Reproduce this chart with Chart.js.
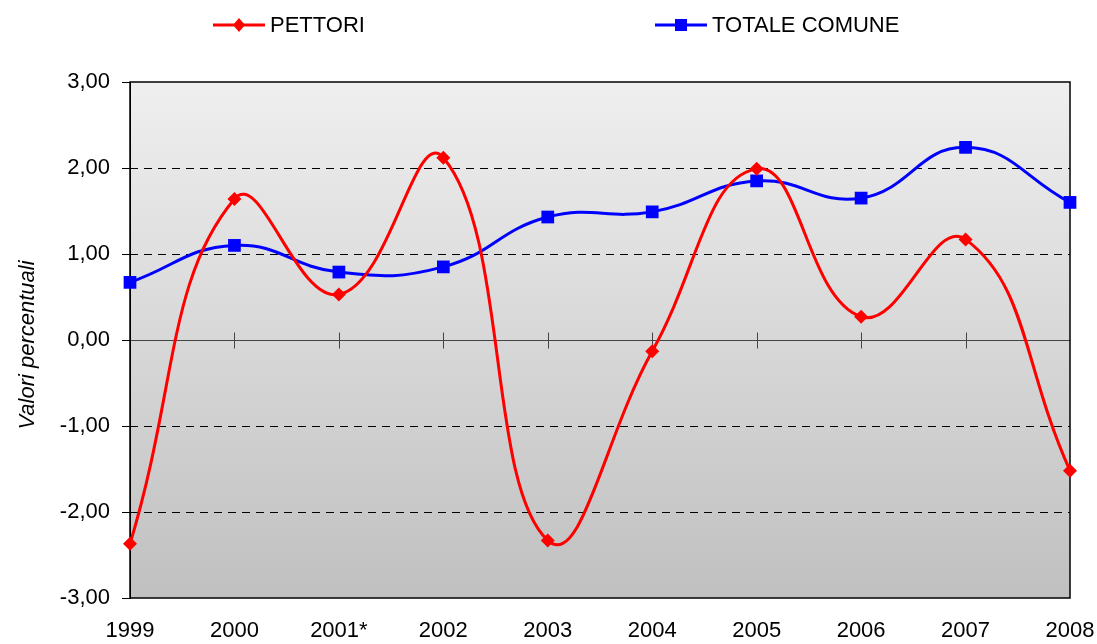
<!DOCTYPE html>
<html>
<head>
<meta charset="utf-8">
<script src="https://cdn.jsdelivr.net/npm/chart.js@4.4.1/dist/chart.umd.min.js"></script>
<style>
  html, body { margin: 0; padding: 0; background: #ffffff; }
  #wrap { width: 1097px; height: 644px; position: relative; }
</style>
</head>
<body>
<div id="wrap"><canvas id="c" width="1097" height="644"></canvas></div>
<script>
const categories = ['1999', '2000', '2001*', '2002', '2003', '2004', '2005', '2006', '2007', '2008'];
const pettori = [-2.37, 1.64, 0.53, 2.12, -2.33, -0.13, 1.99, 0.27, 1.17, -1.52];
const totaleComune = [0.67, 1.10, 0.79, 0.85, 1.43, 1.49, 1.85, 1.65, 2.24, 1.60];
const seriesNames = ['PETTORI', 'TOTALE COMUNE'];
const yAxisTitle = 'Valori percentuali';
const yGridValues = [-2, -1, 1, 2];

const FONT = '"Liberation Sans", Arial, sans-serif';
const RED = '#ff0000';
const BLUE = '#0000ff';

const decorPlugin = {
  id: 'decor',
  beforeDraw(chart) {
    const { ctx, chartArea: a } = chart;
    const g = ctx.createLinearGradient(0, a.top, 0, a.bottom);
    g.addColorStop(0, '#efefef');
    g.addColorStop(1, '#c0c0c0');
    ctx.save();
    ctx.fillStyle = g;
    ctx.fillRect(a.left, a.top, a.right - a.left, a.bottom - a.top);
    ctx.restore();
  },
  beforeDatasetsDraw(chart) {
    const { ctx, chartArea: a, scales } = chart;
    const y = scales.y, x = scales.x;
    ctx.save();
    ctx.strokeStyle = '#000';
    ctx.lineWidth = 1;
    ctx.setLineDash([8, 6]);
    yGridValues.forEach(v => {
      const py = Math.round(y.getPixelForValue(v)) + 0.5;
      ctx.beginPath(); ctx.moveTo(a.left, py); ctx.lineTo(a.right, py); ctx.stroke();
    });
    ctx.setLineDash([]);
    const z = Math.round(y.getPixelForValue(0)) + 0.5;
    ctx.strokeStyle = '#444';
    ctx.beginPath(); ctx.moveTo(a.left, z); ctx.lineTo(a.right, z); ctx.stroke();
    categories.forEach((c, i) => {
      if (i === 0 || i === categories.length - 1) return;
      const px = Math.round(x.getPixelForValue(i)) + 0.5;
      ctx.beginPath(); ctx.moveTo(px, z - 8); ctx.lineTo(px, z + 8); ctx.stroke();
    });
    ctx.strokeStyle = '#000';
    ctx.lineWidth = 1.5;
    ctx.strokeRect(a.left, a.top, a.right - a.left, a.bottom - a.top);
    ctx.restore();
  },
  afterDraw(chart) {
    const { ctx } = chart;
    ctx.save();
    const items = [
      { name: seriesNames[0], color: RED, x0: 213, style: 'diamond' },
      { name: seriesNames[1], color: BLUE, x0: 655, style: 'square' }
    ];
    items.forEach(it => {
      const yy = 25;
      ctx.strokeStyle = it.color;
      ctx.lineWidth = 3;
      ctx.beginPath(); ctx.moveTo(it.x0, yy); ctx.lineTo(it.x0 + 52, yy); ctx.stroke();
      ctx.fillStyle = it.color;
      const cx = it.x0 + 26;
      ctx.beginPath();
      if (it.style === 'diamond') {
        ctx.moveTo(cx, yy - 7); ctx.lineTo(cx + 6, yy); ctx.lineTo(cx, yy + 7); ctx.lineTo(cx - 6, yy); ctx.closePath();
      } else {
        ctx.rect(cx - 6, yy - 6, 12, 12);
      }
      ctx.fill();
      ctx.fillStyle = '#000';
      ctx.font = '22px ' + FONT;
      ctx.textBaseline = 'middle';
      ctx.textAlign = 'left';
      ctx.fillText(it.name, it.x0 + 57, yy + 1);
    });
    ctx.translate(28, 345);
    ctx.rotate(-Math.PI / 2);
    ctx.font = 'italic 22px ' + FONT;
    ctx.textAlign = 'center';
    ctx.textBaseline = 'middle';
    ctx.fillStyle = '#000';
    ctx.fillText(yAxisTitle, 0, 0);
    ctx.restore();
  }
};

new Chart(document.getElementById('c'), {
  type: 'line',
  data: {
    labels: categories,
    datasets: [
      {
        label: seriesNames[0],
        data: pettori,
        borderColor: RED,
        backgroundColor: RED,
        borderWidth: 3,
        pointStyle: 'rectRot',
        pointRadius: 7,
        pointBorderWidth: 0,
        pointBackgroundColor: RED,
        tension: 0.45,
        clip: false
      },
      {
        label: seriesNames[1],
        data: totaleComune,
        borderColor: BLUE,
        backgroundColor: BLUE,
        borderWidth: 3,
        pointStyle: 'rect',
        pointRadius: 9,
        pointBorderWidth: 0,
        pointBackgroundColor: BLUE,
        tension: 0.45,
        clip: false
      }
    ]
  },
  options: {
    responsive: false,
    animation: false,
    layout: { padding: { top: 82, right: 27, bottom: 0, left: 0 } },
    plugins: {
      legend: { display: false },
      tooltip: { enabled: false }
    },
    scales: {
      x: {
        type: 'category',
        offset: false,
        grid: { display: false, drawTicks: false },
        border: { display: false },
        ticks: {
          color: '#000',
          font: { size: 22, family: FONT },
          padding: 20,
          maxRotation: 0,
          autoSkip: false
        },
        afterFit(scale) {
          scale.height = 46;
          scale.paddingLeft = 0;
          scale.paddingRight = 0;
        }
      },
      y: {
        min: -3,
        max: 3,
        grid: { drawOnChartArea: false, drawTicks: true, tickLength: 8, color: '#000' },
        border: { display: true, color: '#000', width: 1 },
        ticks: {
          stepSize: 1,
          color: '#000',
          font: { size: 22, family: FONT },
          padding: 12,
          callback: v => v.toFixed(2).replace('.', ',')
        },
        afterFit(scale) { scale.width = 130; }
      }
    }
  },
  plugins: [decorPlugin]
});
</script>
</body>
</html>
